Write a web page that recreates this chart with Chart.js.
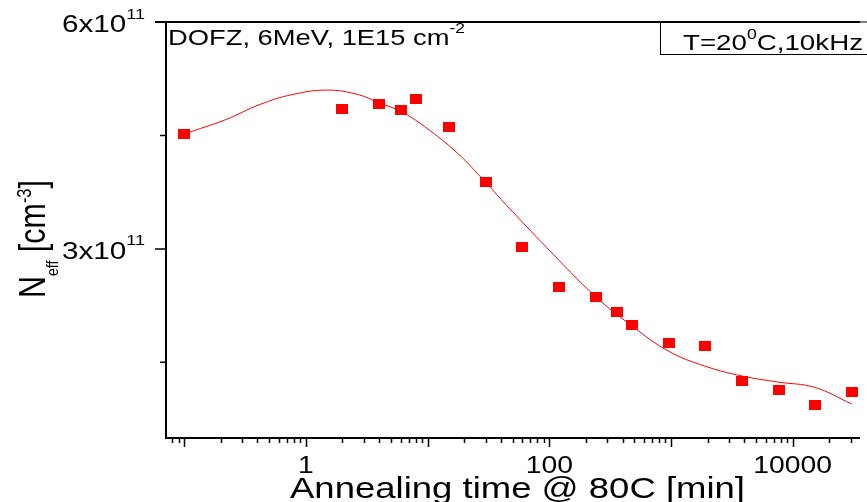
<!DOCTYPE html>
<html>
<head>
<meta charset="utf-8">
<script src="https://cdn.jsdelivr.net/npm/chart.js@4"></script>
<style>
  html, body { margin: 0; padding: 0; background: #fff; overflow: hidden; }
  canvas { display: block; }
</style>
</head>
<body>
<canvas id="chart" width="867" height="502"></canvas>
<script>
// measured points: annealing time [min] and Neff [cm^-3]
const annealTime = [0.1, 2, 4, 6, 8, 15, 30, 60, 120, 240, 360, 480, 960, 1920, 3840, 7680, 15360, 30720];
const neff = [4.52e11, 4.85e11, 4.92e11, 4.84e11, 4.98e11, 4.61e11, 3.88e11, 3.02e11, 2.49e11, 2.37e11,
              2.16e11, 2.00e11, 1.76e11, 1.72e11, 1.25e11, 1.14e11, 0.94e11, 1.11e11];

// fit curve
const fitTime = [0.1, 0.22, 0.42, 0.77, 1.5, 2.7, 4, 6, 9.4, 17.5, 30, 45, 95, 240, 480, 950, 1900, 3830, 7550, 15100, 30500];
const fitNeff = [4.52e11, 4.71e11, 4.91e11, 5.04e11, 5.10e11, 5.04e11, 4.93e11, 4.82e11, 4.62e11, 4.27e11, 3.88e11,
                 3.57e11, 3.02e11, 2.37e11, 1.98e11, 1.65e11, 1.45e11, 1.32e11, 1.24e11, 1.17e11, 0.95e11];

// axis ticks
const xLabelTicks = [1, 100, 10000];
const yMajorTicks = [3e11, 6e11];
const yMinorTicks = [1.5e11, 4.5e11];

const FONT = '"Liberation Sans", Arial, sans-serif';

// red square marker, a bit wider than tall
const marker = document.createElement('canvas');
marker.width = 12; marker.height = 10;
const mctx = marker.getContext('2d');
mctx.fillStyle = '#ff0000';
mctx.fillRect(0, 0, 12, 10);

// draw text made of pieces (sub/superscripts), stretched to a width
function drawRich(ctx, segs, x, y, width, align, rot) {
  let nat = 0;
  segs.forEach(s => {
    ctx.font = s.size + 'px ' + FONT;
    s.w = ctx.measureText(s.t).width;
    nat += s.w;
  });
  const sx = width ? width / nat : 1;
  ctx.save();
  ctx.translate(x, y);
  if (rot) ctx.rotate(rot);
  ctx.scale(sx, 1);
  let cx = align === 'right' ? -nat : align === 'center' ? -nat / 2 : 0;
  ctx.textAlign = 'left';
  ctx.textBaseline = 'alphabetic';
  ctx.fillStyle = '#000';
  segs.forEach(s => {
    ctx.font = s.size + 'px ' + FONT;
    ctx.fillText(s.t, cx, s.dy || 0);
    cx += s.w;
  });
  ctx.restore();
}

const originAxes = {
  id: 'originAxes',
  afterDraw(chart) {
    const ctx = chart.ctx;
    const xs = chart.scales.x, ys = chart.scales.y;
    const a = chart.chartArea;
    ctx.save();
    ctx.strokeStyle = '#000';
    ctx.lineWidth = 2;

    // frame: left, bottom, top
    ctx.beginPath();
    ctx.moveTo(a.left, a.top); ctx.lineTo(a.left, a.bottom);
    ctx.moveTo(a.left - 1, a.bottom); ctx.lineTo(a.right, a.bottom);
    ctx.moveTo(a.left - 11, a.top); ctx.lineTo(a.right, a.top);
    ctx.stroke();

    // x log ticks
    ctx.lineWidth = 1.5;
    ctx.beginPath();
    for (let n = -2; n <= 5; n++) {
      for (let k = 1; k <= 9; k++) {
        const v = k * Math.pow(10, n);
        if (v < xs.min || v > xs.max) continue;
        const px = Math.round(xs.getPixelForValue(v)) + 0.5;
        const len = k === 1 ? 9 : 5;
        ctx.moveTo(px, a.bottom); ctx.lineTo(px, a.bottom + len);
      }
    }
    // y ticks
    yMajorTicks.forEach(v => {
      const py = ys.getPixelForValue(v);
      ctx.moveTo(a.left, py); ctx.lineTo(a.left - 11, py);
    });
    yMinorTicks.forEach(v => {
      const py = ys.getPixelForValue(v);
      ctx.moveTo(a.left, py); ctx.lineTo(a.left - 6, py);
    });
    ctx.stroke();

    // x tick labels
    xLabelTicks.forEach(v => {
      const px = xs.getPixelForValue(v);
      const t = String(v);
      ctx.font = '24px ' + FONT;
      drawRich(ctx, [{ t: t, size: 24 }], px, 473, ctx.measureText(t).width * 1.18, 'center');
    });

    // y tick labels
    yMajorTicks.forEach(v => {
      const py = ys.getPixelForValue(v);
      drawRich(ctx, [{ t: (v / 1e11) + 'x10', size: 23 }, { t: '11', size: 14, dy: -13.5 }],
        145, py + 10, 83, 'right');
    });

    // axis titles
    drawRich(ctx, [{ t: 'Annealing time @ 80C [min]', size: 30 }], 290, 498, 455, 'left');
    drawRich(ctx, [
      { t: 'N', size: 37 },
      { t: 'eff', size: 17, dy: 13 },
      { t: ' [cm', size: 37 },
      { t: '-3', size: 20, dy: -14 },
      { t: ']', size: 37 }
    ], 45, 298, 118, 'left', -Math.PI / 2);

    // annotations
    drawRich(ctx, [{ t: 'DOFZ, 6MeV, 1E15 cm', size: 22 }, { t: '-2', size: 14, dy: -12 }],
      168, 45, 297, 'left');
    ctx.lineWidth = 1;
    ctx.strokeRect(660.5, a.top, 220, 32.5);
    drawRich(ctx, [{ t: 'T=20', size: 22 }, { t: '0', size: 14, dy: -11 }, { t: 'C,10kHz', size: 22 }],
      683, 49.5, 180, 'left');
    ctx.restore();
  }
};

new Chart(document.getElementById('chart'), {
  type: 'scatter',
  data: {
    datasets: [{
      label: 'data',
      data: annealTime.map((t, i) => ({ x: t, y: neff[i] })),
      pointStyle: marker,
      pointRadius: 6,
      pointHoverRadius: 6,
      showLine: false
    }, {
      label: 'fit',
      data: fitTime.map((t, i) => ({ x: t, y: fitNeff[i] })),
      showLine: true,
      borderColor: '#ff0000',
      borderWidth: 1,
      pointRadius: 0,
      tension: 0.4,
      fill: false
    }]
  },
  options: {
    responsive: false,
    animation: false,
    layout: { padding: { left: 166, top: 22, right: 0, bottom: 64 } },
    plugins: { legend: { display: false }, tooltip: { enabled: false } },
    scales: {
      x: { type: 'logarithmic', min: 0.071, max: 35700, display: false },
      y: { type: 'linear', min: 5e10, max: 6e11, display: false }
    }
  },
  plugins: [originAxes]
});
</script>
</body>
</html>
